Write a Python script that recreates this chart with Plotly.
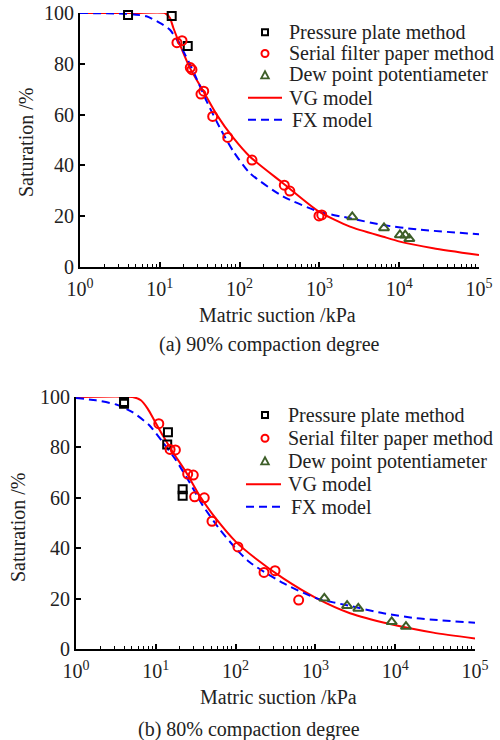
import plotly.graph_objects as go

# ---------------- data: (a) 90% compaction degree ----------------
pp_x_a = [4.0, 14.1, 22.4]
pp_y_a = [99.2, 98.8, 87.0]
sf_x_a = [16.4, 19.0, 24.1, 25.3, 32.8, 35.5, 46.0, 71.0, 143, 363, 426, 988, 1070]
sf_y_a = [88.3, 89.1, 78.5, 77.7, 68.1, 69.2, 59.3, 51.0, 42.1, 32.2, 29.9, 20.1, 20.5]
dp_x_a = [2580, 6450, 10200, 11900, 13400]
dp_y_a = [19.7, 15.4, 12.6, 12.5, 11.1]
vg_x_a = [1, 5, 11.6, 13.4, 14.8, 17.9, 23.9, 35.1, 51.6, 83.5, 135, 353, 988, 2415, 6320, 10200, 26700, 100000]
vg_y_a = [100, 100, 100, 98.0, 94.1, 87.5, 78.3, 69.2, 60.0, 50.8, 43.4, 32.9, 21.8, 15.9, 11.9, 10.0, 7.4, 4.7]
fx_x_a = [1, 4.2, 6.8, 10, 13.4, 17.9, 26.3, 38.7, 56.8, 83.5, 135, 353, 988, 2415, 6320, 16600, 100000]
fx_y_a = [100, 99.6, 98.7, 96.1, 93.4, 87.5, 77.0, 65.2, 54.7, 45.5, 36.9, 27.7, 21.8, 19.2, 16.5, 14.8, 12.9]

# ---------------- data: (b) 80% compaction degree ----------------
pp_x_b = [4.0, 4.0, 14.2, 13.9, 21.7, 21.7]
pp_y_b = [98.0, 97.3, 86.0, 81.2, 63.4, 60.8]
sf_x_b = [10.9, 15.1, 17.6, 25.1, 29.5, 30.7, 40.5, 50.6, 107, 227, 312, 617]
sf_y_b = [89.4, 79.2, 79.0, 69.4, 69.0, 60.4, 60.0, 50.7, 40.5, 30.4, 31.1, 19.4]
dp_x_b = [1294, 2495, 3450, 9040, 13650]
dp_y_b = [20.1, 17.2, 16.1, 10.8, 8.9]
vg_x_b = [1, 5.1, 6.5, 7.9, 9.6, 12.2, 16.3, 23.9, 35.1, 56.8, 101, 180, 396, 1038, 2715, 8600, 30000, 100000]
vg_y_b = [100, 100, 98.7, 95.4, 90.7, 84.8, 78.2, 70.2, 61.0, 51.7, 42.5, 35.8, 28.0, 20.1, 14.2, 9.9, 6.5, 4.2]
fx_x_b = [1, 1.78, 3.2, 5.1, 8.3, 12.2, 17.9, 26.3, 38.7, 62.5, 101, 149, 396, 1038, 2715, 7100, 18600, 100000]
fx_y_b = [99.6, 98.7, 97.0, 94.0, 88.8, 82.1, 74.9, 66.3, 57.0, 47.7, 39.8, 34.5, 26.1, 20.1, 17.1, 14.2, 12.2, 10.4]

x_tick_vals = [1, 10, 100, 1000, 10000, 100000]
x_tick_text = ["10<sup>0</sup>", "10<sup>1</sup>", "10<sup>2</sup>", "10<sup>3</sup>", "10<sup>4</sup>", "10<sup>5</sup>"]
y_tick_vals = [0, 20, 40, 60, 80, 100]

names = ["Pressure plate method", "Serial filter paper method", "Dew point potentiameter", "VG model", "FX model"]
y_title = "Saturation /%"
x_title = "Matric suction /kPa"
captions = ["(a) 90% compaction degree", "(b) 80% compaction degree"]

FONT = "Liberation Serif"
RED = "#ff0000"
BLUE = "#0000ff"
GREEN = "#3d5e28"
TXT = "#222"
DASH = "8px,5px"

W, H = 500, 740


def px(x):
    return x / W


def py(y):
    return 1 - y / H


fig = go.Figure()


def add_panel(xa, ya, pp, sf, dp, vg, fx):
    fig.add_trace(go.Scatter(x=vg[0], y=vg[1], mode="lines", name=names[3], showlegend=False,
                             line=dict(color=RED, width=2, shape="spline", smoothing=0.6),
                             xaxis=xa, yaxis=ya, cliponaxis=False))
    fig.add_trace(go.Scatter(x=fx[0], y=fx[1], mode="lines", name=names[4], showlegend=False,
                             line=dict(color=BLUE, width=2, dash=DASH, shape="spline", smoothing=0.6),
                             xaxis=xa, yaxis=ya, cliponaxis=False))
    fig.add_trace(go.Scatter(x=pp[0], y=pp[1], mode="markers", name=names[0], showlegend=False,
                             marker=dict(symbol="square-open", size=8, color="black", line=dict(width=2)),
                             xaxis=xa, yaxis=ya, cliponaxis=False))
    fig.add_trace(go.Scatter(x=sf[0], y=sf[1], mode="markers", name=names[1], showlegend=False,
                             marker=dict(symbol="circle-open", size=9, color=RED, line=dict(width=2)),
                             xaxis=xa, yaxis=ya, cliponaxis=False))
    fig.add_trace(go.Scatter(x=dp[0], y=dp[1], mode="markers", name=names[2], showlegend=False,
                             marker=dict(symbol="triangle-up-open", size=9, color=GREEN, line=dict(width=2)),
                             xaxis=xa, yaxis=ya, cliponaxis=False))


add_panel("x", "y", (pp_x_a, pp_y_a), (sf_x_a, sf_y_a), (dp_x_a, dp_y_a),
          (vg_x_a, vg_y_a), (fx_x_a, fx_y_a))
add_panel("x2", "y2", (pp_x_b, pp_y_b), (sf_x_b, sf_y_b), (dp_x_b, dp_y_b),
          (vg_x_b, vg_y_b), (fx_x_b, fx_y_b))

minor_vals = [m * 10 ** d for d in range(0, 5) for m in range(2, 10)]


def xaxis_cfg(domain, anchor):
    return dict(type="log", range=[0, 5], domain=domain, anchor=anchor, automargin=False,
                showline=True, linecolor="black", linewidth=2, mirror=False,
                showgrid=False, zeroline=False, ticklabeloverflow="allow",
                tickmode="array", tickvals=x_tick_vals, ticktext=x_tick_text,
                ticks="inside", ticklen=5, tickwidth=1.5, tickcolor="black",
                ticklabelstandoff=3,
                minor=dict(tickmode="array", tickvals=minor_vals, ticks="inside",
                           ticklen=3, tickwidth=1, tickcolor="black", showgrid=False),
                tickfont=dict(family=FONT, size=20, color=TXT))


def yaxis_cfg(domain, anchor):
    return dict(range=[0, 100], domain=domain, anchor=anchor, automargin=False,
                showline=True, linecolor="black", linewidth=2, mirror=False,
                showgrid=False, zeroline=False, ticklabeloverflow="allow",
                tickmode="array", tickvals=y_tick_vals,
                ticks="inside", ticklen=5, tickwidth=1.5, tickcolor="black",
                tickfont=dict(family=FONT, size=20, color=TXT))


# ---------------- legend (key) drawn as shapes + text ----------------
shapes = []
annotations = []


def label(text, x, y, xanchor="center", angle=0):
    return dict(text=text, x=px(x), y=py(y), xref="paper", yref="paper",
                xanchor=xanchor, yanchor="middle", textangle=angle, showarrow=False,
                font=dict(family=FONT, size=20, color=TXT))


def add_key(mx, rows, line_x0, line_x1, text_x, fx_text_x):
    r = rows
    shapes.append(dict(type="rect", xref="paper", yref="paper",
                       x0=px(mx - 3), x1=px(mx + 3), y0=py(r[0] + 3), y1=py(r[0] - 3),
                       line=dict(color="black", width=2)))
    shapes.append(dict(type="circle", xref="paper", yref="paper",
                       x0=px(mx - 3.5), x1=px(mx + 3.5), y0=py(r[1] + 3.5), y1=py(r[1] - 3.5),
                       line=dict(color=RED, width=2)))
    path = "M {:.5f},{:.5f} L {:.5f},{:.5f} L {:.5f},{:.5f} Z".format(
        px(mx - 3.8), py(r[2] + 3.3), px(mx + 3.8), py(r[2] + 3.3), px(mx), py(r[2] - 3.8))
    shapes.append(dict(type="path", xref="paper", yref="paper", path=path,
                       line=dict(color=GREEN, width=1.8)))
    shapes.append(dict(type="line", xref="paper", yref="paper",
                       x0=px(line_x0), x1=px(line_x1), y0=py(r[3]), y1=py(r[3]),
                       line=dict(color=RED, width=2)))
    shapes.append(dict(type="line", xref="paper", yref="paper",
                       x0=px(line_x0), x1=px(line_x1), y0=py(r[4]), y1=py(r[4]),
                       line=dict(color=BLUE, width=2, dash=DASH)))
    for i, nm in enumerate(names):
        tx = fx_text_x if i == 4 else text_x
        annotations.append(label(nm, tx, r[i], xanchor="left"))


add_key(265, [32.3, 53.5, 75.0, 97.7, 119.7], 248, 282, 287, 290)
add_key(265, [415.0, 438.3, 461.0, 484.3, 506.7], 246, 281, 285.5, 288.5)

annotations += [
    label(y_title, 26, 143, angle=-90),
    label(x_title, 277, 315),
    label(captions[0], 269, 344),
    label(y_title, 18, 528, angle=-90),
    label(x_title, 278, 697),
    label(captions[1], 249, 729),
]

fig.update_layout(
    width=W, height=H,
    margin=dict(l=0, r=0, t=0, b=0),
    paper_bgcolor="white", plot_bgcolor="white",
    font=dict(family=FONT, color=TXT),
    showlegend=False,
    xaxis=xaxis_cfg([px(80), px(479)], "y"),
    yaxis=yaxis_cfg([py(267), py(13)], "x"),
    xaxis2=xaxis_cfg([px(76), px(475)], "y2"),
    yaxis2=yaxis_cfg([py(649), py(397)], "x2"),
    shapes=shapes,
    annotations=annotations,
)

# remove the browser's default 8px body margin so the figure sits at the page origin
fig.write_html("out.html", config={"displayModeBar": False},
               post_script="document.body.style.margin='0px';")
